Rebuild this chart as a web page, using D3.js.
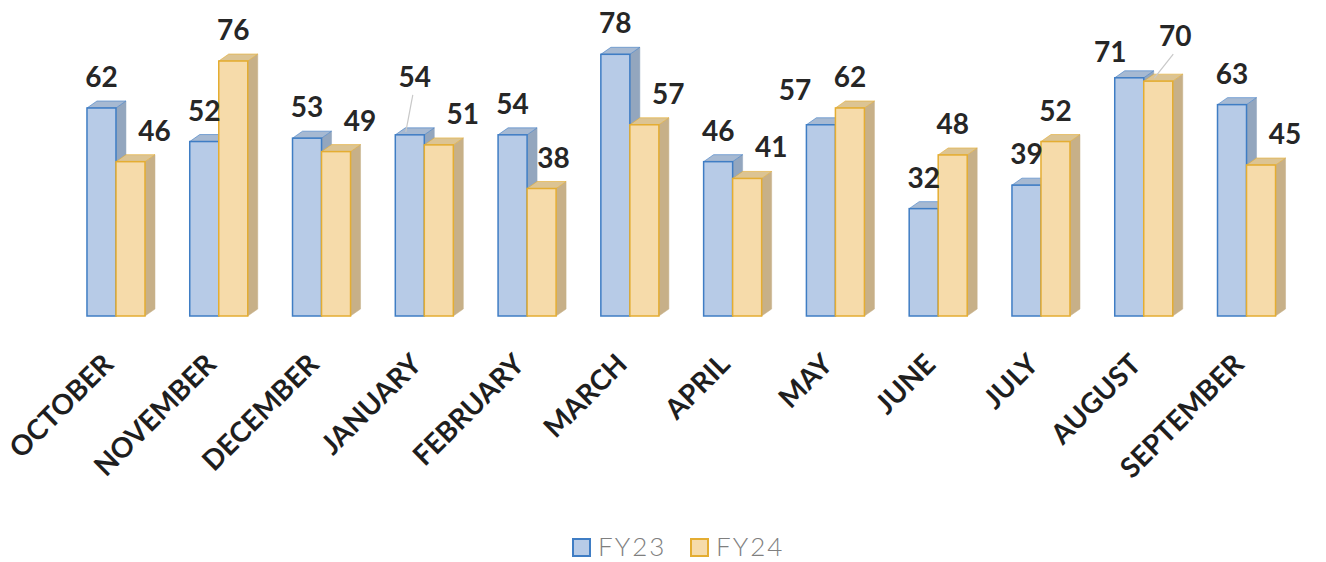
<!DOCTYPE html>
<html><head><meta charset="utf-8">
<script src="https://cdn.jsdelivr.net/npm/d3@7"></script>
<style>body{margin:0;background:#fff}svg{display:block}</style>
</head><body>
<script>
// ---- data ----
const months = ["OCTOBER","NOVEMBER","DECEMBER","JANUARY","FEBRUARY","MARCH","APRIL","MAY","JUNE","JULY","AUGUST","SEPTEMBER"];
const seriesNames = ["FY23","FY24"];
const fy23 = [62,52,53,54,54,78,46,57,32,39,71,63];
const fy24 = [46,76,49,51,38,57,41,62,48,52,70,45];

// ---- layout / style ----
const W = 1326, H = 562;
const DX = 10, DY = 7;
const colors = {
  FY23: {front:"#b7cbe7", top:"#a6b9d2", side:"#93a6be", stroke:"#3f7dc4"},
  FY24: {front:"#f6dbaa", top:"#dcc493", side:"#c7b088", stroke:"#e4ad32"}
};
// manual label nudges (offsets relative to the default label position)
const labelNudge = {
  "JANUARY|FY23": {dx:5, dy:-27, leader:true},
  "FEBRUARY|FY24": {dx:-12, dy:0},
  "MAY|FY23": {dx:-26, dy:-4},
  "AUGUST|FY23": {dx:-19, dy:5},
  "AUGUST|FY24": {dx:-7, dy:-14, leader:true}
};

const svg = d3.select("body").append("svg").attr("width", W).attr("height", H);

const x = d3.scaleBand().domain(months).range([40, 1322.5]).paddingInner(0.4355).paddingOuter(0.457);
const xs = d3.scaleBand().domain(seriesNames).range([0, x.bandwidth()]);
const y = d3.scaleLinear().domain([0, 80]).range([316, 316 - 80 * 3.355]);

const rows = months.map((m, i) => ({month: m, FY23: fy23[i], FY24: fy24[i]}));

const plot = svg.append("g");
rows.forEach(r => {
  const g = plot.append("g");
  seriesNames.forEach(s => {
    const x0 = x(r.month) + xs(s), w = xs.bandwidth();
    const yT = y(r[s]), yB = y(0);
    const c = colors[s];
    g.append("polygon")
      .attr("points", [[x0 + w, yT], [x0 + w + DX, yT - DY], [x0 + w + DX, yB - DY], [x0 + w, yB]].join(" "))
      .attr("fill", c.side).attr("stroke", c.side).attr("stroke-width", 0.5);
    g.append("polygon")
      .attr("points", [[x0, yT], [x0 + DX, yT - DY], [x0 + w + DX, yT - DY], [x0 + w, yT]].join(" "))
      .attr("fill", c.top).attr("stroke", c.stroke).attr("stroke-width", 1).attr("stroke-opacity", 0.6);
    g.append("rect")
      .attr("x", x0).attr("y", yT).attr("width", w).attr("height", yB - yT)
      .attr("fill", c.front).attr("stroke", c.stroke).attr("stroke-width", 1.5);
  });
});

// value labels
const labels = svg.append("g").attr("font-family", "Lato, 'Open Sans', sans-serif")
  .attr("font-weight", 700).attr("font-size", 28).attr("fill", "#262626").attr("text-anchor", "middle");
rows.forEach(r => {
  seriesNames.forEach(s => {
    const cx = x(r.month) + xs(s) + xs.bandwidth() / 2;
    const base = (s === "FY24" && r.FY24 < r.FY23) ? 24 : 0;
    let dx = base, dy = 0;
    const n = labelNudge[r.month + "|" + s];
    if (n) { dx = base + n.dx; dy = n.dy; }
    const ty = y(r[s]) - 21 + dy;
    if (n && n.leader) {
      labels.append("line")
        .attr("x1", cx + dx - 2).attr("y1", ty + 8)
        .attr("x2", cx - 4).attr("y2", y(r[s]) - 3)
        .attr("stroke", "#c8c8c8").attr("stroke-width", 1.2);
    }
    labels.append("text").attr("x", cx + dx).attr("y", ty).text(r[s]);
  });
});

// x axis
const axis = svg.append("g").attr("transform", "translate(0,368)")
  .call(d3.axisBottom(x).tickSize(0).tickPadding(0));
axis.select(".domain").remove();
axis.selectAll("text")
  .attr("x", 0).attr("y", 0).attr("dy", 0)
  .attr("transform", "translate(-1,-2) rotate(-45)")
  .attr("text-anchor", "end")
  .attr("font-family", "Lato, 'Open Sans', sans-serif")
  .attr("font-weight", 700).attr("font-size", 28).attr("fill", "#1e1e1e");

// legend
const legend = svg.append("g").attr("transform", "translate(572,538)");
seriesNames.forEach((s, i) => {
  const g = legend.append("g").attr("transform", `translate(${i * 118},0)`);
  g.append("rect").attr("x", 1).attr("y", 1).attr("width", 17).attr("height", 17)
    .attr("fill", colors[s].front).attr("stroke", colors[s].stroke).attr("stroke-width", 2);
  g.append("text").attr("x", 26).attr("y", 18).text(s)
    .attr("font-family", "Lato, sans-serif").attr("font-weight", 300)
    .attr("font-size", 26).attr("letter-spacing", 2).attr("fill", "#7f7f7f");
});
</script>
</body></html>
